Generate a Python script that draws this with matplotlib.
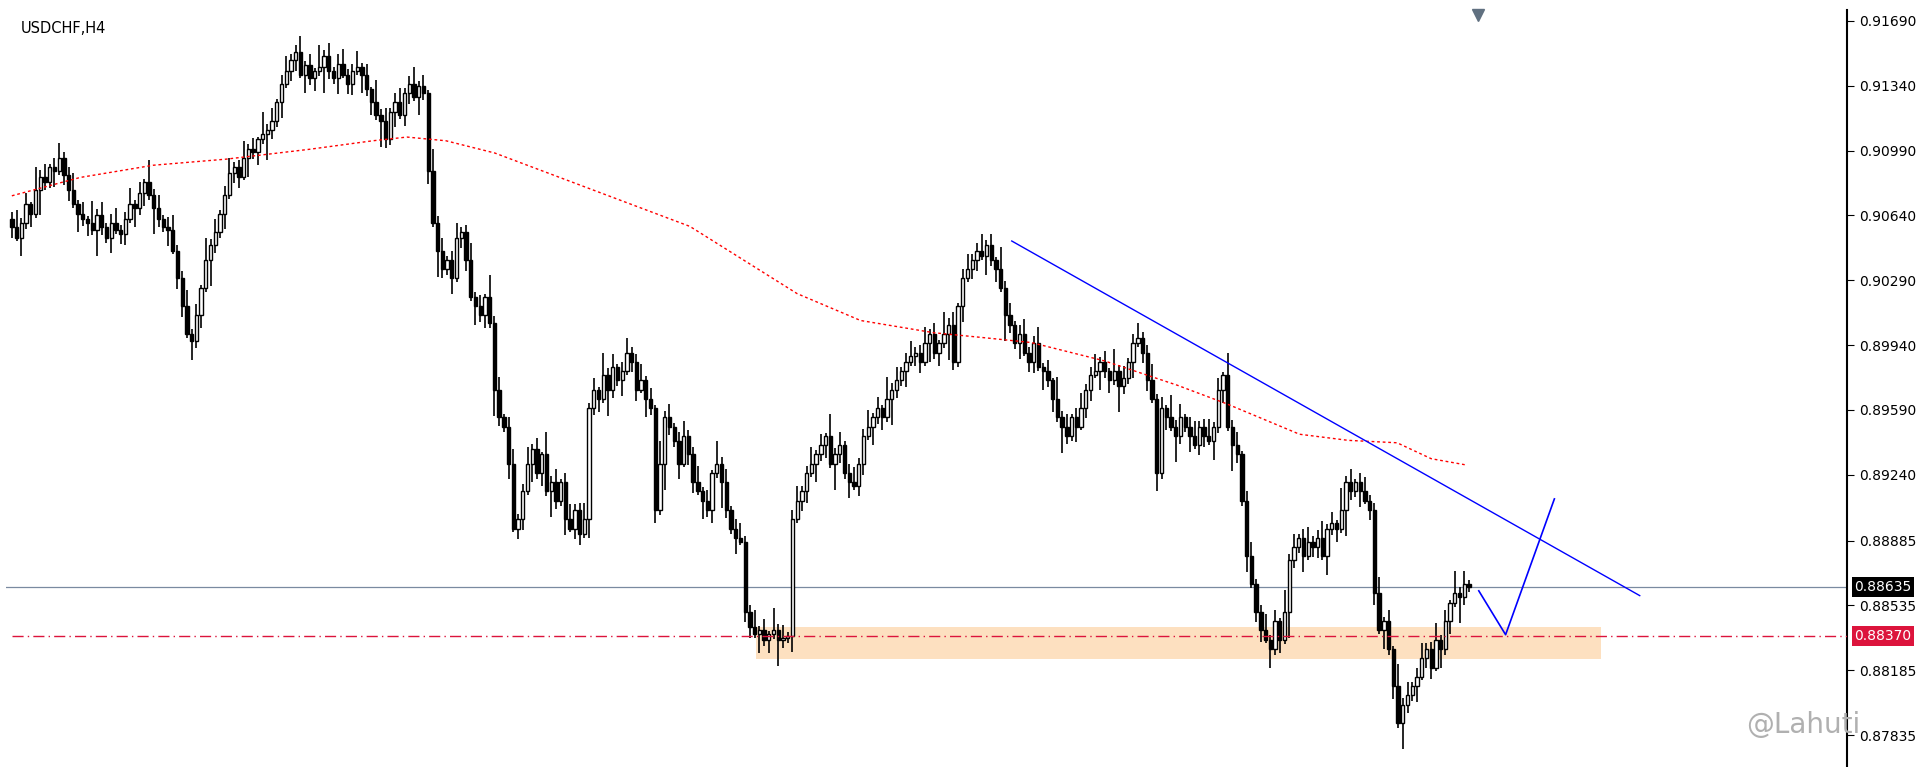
import matplotlib
matplotlib.use("Agg")
import matplotlib.pyplot as plt
import numpy as np

symbol = "USDCHF,H4"
closes = [
90580,90520,90600,90700,90650,90780,90850,90820,90900,
90880,90950,90860,90780,90700,90650,90620,90600,
90560,90640,90580,90520,90600,90560,90540,
90620,90700,90680,90760,90820,
90750,90680,90620,90580,90560,
90450,90300,90150,90000,89960,
90100,90250,90400,90480,
90550,90650,90750,90870,
90900,90850,90950,91000,90980,91050,91080,
91100,91150,91250,91350,91420,91480,
91520,91400,91450,91380,91420,91440,
91500,91420,91380,91460,91400,91350,91420,91440,
91400,91320,91250,91180,91150,
91050,91200,91250,91180,91300,
91350,91280,91340,91300,90880,
90600,90450,90350,
90400,90300,90520,90550,
90400,90200,90150,
90100,90200,90060,89700,
89550,89500,89300,88950,
89000,89150,89300,89380,
89250,89350,89150,89200,89100,
89200,89000,88950,89050,88920,
89000,89600,89700,
89650,89780,89700,89820,89750,89800,89900,
89850,89700,89750,89650,89600,
89050,
89300,89550,89500,89420,
89300,89450,89350,89200,89150,
89100,89050,89250,89300,89200,
89050,88950,88900,88880,
88500,
88420,88380,88400,88350,88380,
88400,88350,88360,88370,
89000,
89100,89150,89250,89300,89350,
89400,89450,89300,89350,89400,
89250,89200,89180,
89300,89450,89500,89550,89600,
89550,89650,89700,89750,89800,89850,89880,
89900,89850,89950,90000,89900,89950,90000,90050,
89850,90150,90300,
90350,90400,90450,90420,90480,
90400,90350,90250,
90100,90050,89950,
90000,89900,89850,89950,89820,
89800,89750,89650,89550,89500,
89450,89550,89500,
89600,89700,89780,89800,89850,
89800,89750,89800,89720,89760,
89850,89950,89980,
89900,89750,89650,
89250,
89600,
89550,89500,89450,89550,89500,
89450,89400,89500,89450,89420,
89500,89700,89780,
89500,89400,89350,
89100,88800,88650,
88500,88400,88350,
88300,88450,88350,88500,
88780,
88850,88900,88800,88880,88850,
88900,88800,88950,88980,88950,
89050,89200,89150,
89200,89150,89100,89050,
88600,
88400,88450,88300,
88100,87900,88000,
88050,88100,88150,
88250,88300,88200,
88350,88300,88450,
88550,88600,88580,
88650,88635]
first_open = 90620
upper_wicks = [40, 90, 25, 60, 15, 120, 35, 70, 20, 50, 80, 30]
lower_wicks = [60, 20, 100, 35, 70, 25, 140, 45, 30, 85, 20, 55]

ma_idx = [0, 14, 29, 44, 61, 74, 81, 89, 99, 119, 139, 149, 161, 174, 189, 199, 209, 224, 239, 249, 264, 274, 284, 291, 298]
ma_val = [90746, 90845, 90911, 90944, 90997, 91043, 91063, 91043, 90977, 90779, 90581, 90416, 90218, 90073, 90007, 89981, 89954, 89855, 89723, 89624, 89459, 89426, 89413, 89327, 89294]

yticks = [0.91690, 0.91340, 0.90990, 0.90640, 0.90290, 0.89940, 0.89590, 0.89240, 0.88885, 0.88535, 0.88185, 0.87835]
last_price = 0.88635
level_price = 0.88370
zone = (152.5, 325.75, 0.88245, 0.88416)
trend = ([205, 333.75], [0.90502, 0.88588])
proj = ([300.75, 306.25, 316.25], [0.88614, 0.88377, 0.89110])

c = np.array(closes) / 1e5
o = np.concatenate([[first_open / 1e5], c[:-1]])
n = len(c)
step = 298.75 / (n - 1)
x = np.arange(n) * step
uw = np.array([upper_wicks[i % len(upper_wicks)] for i in range(n)]) / 1e5
lw = np.array([lower_wicks[i % len(lower_wicks)] for i in range(n)]) / 1e5
hi = np.maximum(o, c) + uw
lo = np.minimum(o, c) - lw

fig = plt.figure(figsize=(19.18, 7.67), dpi=100)
ax = fig.add_axes([0.003, 0.0, 0.960, 0.987])
ax.set_xlim(-1.25, 376.25)
ax.set_ylim(0.87663, 0.91749)

ax.add_patch(plt.Rectangle((zone[0], zone[2]), zone[1] - zone[0], zone[3] - zone[2],
                           facecolor="#fde0c0", edgecolor="none", zorder=0))
ax.vlines(x, lo, hi, color="black", lw=1.2, zorder=2)
bull = c >= o
w = 0.7 * step
ax.bar(x[bull], (c - o)[bull], bottom=o[bull], width=w, facecolor="white", edgecolor="black", lw=1.0, zorder=3)
ax.bar(x[~bull], (o - c)[~bull], bottom=c[~bull], width=w, facecolor="black", edgecolor="black", lw=1.0, zorder=3)

ax.plot(ma_idx, np.array(ma_val) / 1e5, color="red", ls=(0, (2, 2)), lw=1.0, zorder=4)
ax.plot(trend[0], trend[1], color="blue", lw=1.0, zorder=4)
ax.plot(proj[0], proj[1], color="blue", lw=1.2, zorder=4)
ax.axhline(last_price, color="#7a8aa0", lw=0.9, zorder=1)
ax.plot([0, 376.25], [level_price] * 2, color="crimson", lw=1.0, ls=(0, (8, 3, 1, 3)), zorder=4)

ax.yaxis.tick_right()
ax.set_yticks(yticks)
ax.set_yticklabels([f"{t:.5f}" for t in yticks], fontsize=10)
ax.tick_params(axis="y", length=5, pad=4)
ax.set_xticks([])
for s in ["top", "left", "bottom"]:
    ax.spines[s].set_visible(False)
ax.spines["right"].set_linewidth(1.5)

ax.text(0.008, 0.985, symbol, transform=ax.transAxes, fontsize=10.5, va="top")
ax.text(1.004, last_price, f"{last_price:.5f}", transform=ax.get_yaxis_transform(), fontsize=10,
        color="white", va="center", bbox=dict(facecolor="black", edgecolor="none", pad=2))
ax.text(1.004, level_price, f"{level_price:.5f}", transform=ax.get_yaxis_transform(), fontsize=10,
        color="white", va="center", bbox=dict(facecolor="crimson", edgecolor="none", pad=2))
ax.plot([300.5], [0.9172], marker="v", color="#607080", ms=9, clip_on=False)
fig.text(0.97, 0.055, "@Lahuti", fontsize=20, color="#b0b0b0", ha="right", va="center")

fig.savefig("out.png", dpi=100)
